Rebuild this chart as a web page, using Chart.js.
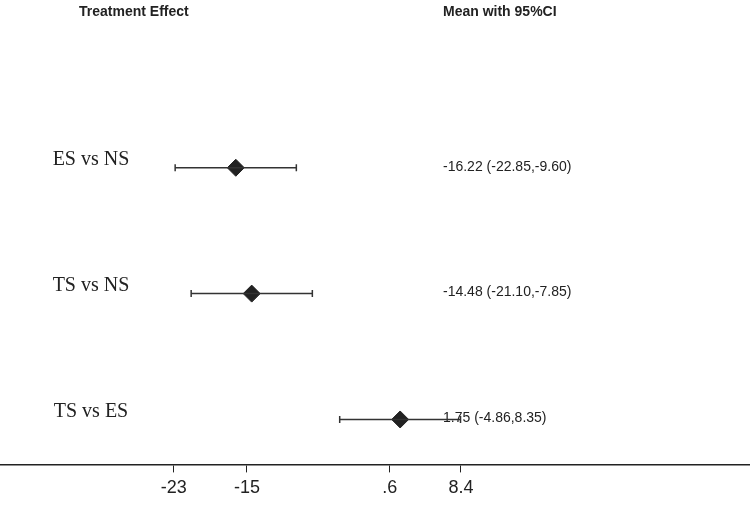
<!DOCTYPE html>
<html>
<head>
    <title>Treatment Effect</title>
    <script src="https://cdn.jsdelivr.net/npm/chart.js"></script>
    <style>
        body { margin: 0; background: #fff; }
        #wrap { width: 750px; height: 522px; }
    </style>
</head>
<body>
    <div id="wrap"><canvas id="forest"></canvas></div>

    <script>
    // data
    const comparisons = ['ES vs NS', 'TS vs NS', 'TS vs ES'];
    const means = [-16.22, -14.48, 1.75];
    const lower = [-22.85, -21.10, -4.86];
    const upper = [-9.60, -7.85, 8.35];
    const tickValues = [-23, -15, 0.6, 8.4];
    const tickLabels = ['-23', '-15', '.6', '8.4'];

    const ink = '#222';

    const ciSets = comparisons.map((c, i) => ({
        label: c,
        data: [{ x: lower[i], y: i + 1 }, { x: upper[i], y: i + 1 }],
        showLine: true,
        borderColor: '#333',
        borderWidth: 1.5,
        pointStyle: 'line',
        rotation: 90,
        pointRadius: 3.5,
        pointBorderWidth: 1.5,
        pointBorderColor: '#333'
    }));

    const meanSet = {
        label: 'Mean',
        data: means.map((m, i) => ({ x: m, y: i + 1 })),
        pointStyle: 'rectRot',
        pointRadius: 8.5,
        backgroundColor: ink,
        borderColor: ink,
        showLine: false
    };

    // text columns: row labels, header, mean (CI)
    const textColumns = {
        id: 'textColumns',
        beforeDatasetsDraw(chart) {
            const ctx = chart.ctx;
            const ys = chart.scales.y;
            ctx.save();
            ctx.fillStyle = ink;
            ctx.textBaseline = 'middle';

            ctx.font = 'bold 14px "Liberation Sans", Arial, sans-serif';
            ctx.textAlign = 'left';
            ctx.fillText('Treatment Effect', 79, 12);
            ctx.fillText('Mean with 95%CI', 443, 12);

            comparisons.forEach((c, i) => {
                const y = ys.getPixelForValue(i + 1);
                ctx.font = '20px "Liberation Serif", "Times New Roman", serif';
                ctx.textAlign = 'center';
                ctx.fillText(c, 91, y - 8);

                ctx.font = '14px "Liberation Sans", Arial, sans-serif';
                ctx.textAlign = 'left';
                const txt = means[i].toFixed(2) + ' (' + lower[i].toFixed(2) + ',' + upper[i].toFixed(2) + ')';
                ctx.fillText(txt, 443, y - 1);
            });
            ctx.restore();
        }
    };

    new Chart(document.getElementById('forest'), {
        type: 'scatter',
        data: { datasets: [...ciSets, meanSet] },
        options: {
            responsive: true,
            maintainAspectRatio: false,
            animation: false,
            layout: { autoPadding: false, padding: { left: 0, right: 0, top: 0, bottom: 18 } },
            plugins: {
                legend: { display: false },
                tooltip: { enabled: false }
            },
            scales: {
                x: {
                    type: 'linear',
                    min: -42,
                    max: 40,
                    afterBuildTicks: axis => {
                        axis.ticks = tickValues.map(v => ({ value: v }));
                    },
                    grid: {
                        drawOnChartArea: false,
                        drawTicks: true,
                        tickLength: 8,
                        color: ink,
                        lineWidth: 1
                    },
                    border: { display: true, color: ink, width: 1.5 },
                    ticks: {
                        color: ink,
                        padding: 5,
                        autoSkip: false,
                        maxRotation: 0,
                        font: { family: '"Liberation Sans Narrow", "Liberation Sans", Arial', size: 18 },
                        callback: (v, idx) => tickLabels[idx]
                    }
                },
                y: {
                    type: 'linear',
                    display: false,
                    reverse: true,
                    min: -0.333,
                    max: 3.357
                }
            }
        },
        plugins: [textColumns]
    });
    </script>
</body>
</html>
